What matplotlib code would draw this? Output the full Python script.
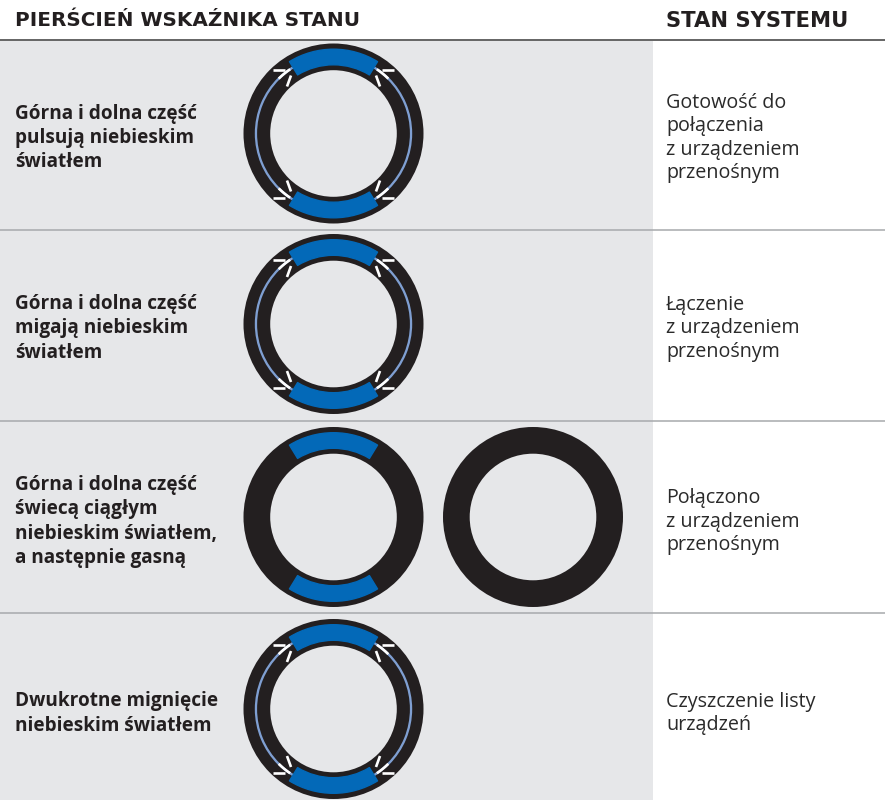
import matplotlib
matplotlib.use('Agg')
import matplotlib.pyplot as plt
from matplotlib.patches import Rectangle, Wedge, Circle
import numpy as np

plt.rcParams['font.family'] = ['Open Sans', 'DejaVu Sans']

headers = ['PIERŚCIEŃ WSKAŹNIKA STANU', 'STAN SYSTEMU']
patterns = ['Górna i dolna część\npulsują niebieskim\nświatłem',
            'Górna i dolna część\nmigają niebieskim\nświatłem',
            'Górna i dolna część\nświecą ciągłym\nniebieskim światłem,\na następnie gasną',
            'Dwukrotne mignięcie\nniebieskim światłem']
states = ['Gotowość do\npołączenia\nz urządzeniem\nprzenośnym',
          'Łączenie\nz urządzeniem\nprzenośnym',
          'Połączono\nz urządzeniem\nprzenośnym',
          'Czyszczenie listy\nurządzeń']
row_tops = [41, 230, 421, 613, 800]
ring_y = [133.5, 324, 517, 709]
has_rays = [True, True, False, True]

GREY = '#e6e7e9'
BLACK = '#231f20'
BLUE = '#0369b8'
LIGHT = '#7f9fd2'

fig = plt.figure(figsize=(8.85, 8), dpi=100)
ax = fig.add_axes([0, 0, 1, 1])
ax.set_xlim(0, 885)
ax.set_ylim(800, 0)
ax.axis('off')


def ring(cx, cy, blue=True, rays=False):
    ax.add_patch(Circle((cx, cy), 90, fc=BLACK, ec='none', zorder=2))
    ax.add_patch(Circle((cx, cy), 63.3, fc=GREY, ec='none', zorder=3))
    if rays:
        ax.add_patch(Wedge((cx, cy), 78.7, 0, 360, width=2.3, fc=LIGHT, ec='none', zorder=4))
    if blue:
        for mid in (90, 270):
            ax.add_patch(Wedge((cx, cy), 84.3, mid - 31.5, mid + 31.5, width=15.6,
                               fc=BLUE, ec=BLUE, lw=1.0, joinstyle='round', zorder=6))
    if rays:
        for sx in (-1, 1):
            for sy in (-1, 1):
                # short arc piece next to the blue segment
                th = np.radians(np.linspace(45, 56, 12))
                ax.plot(cx + sx * 77.5 * np.cos(th), cy + sy * 77.5 * np.sin(th),
                        color='white', lw=1.9, zorder=5, solid_capstyle='butt')
                ax.plot([cx + sx * 48.5, cx + sx * 60.5], [cy + sy * 64, cy + sy * 64],
                        color='white', lw=1.9, zorder=5, solid_capstyle='butt')
                ax.plot([cx + sx * 42.5, cx + sx * 46.5], [cy + sy * 58, cy + sy * 47],
                        color='white', lw=1.9, zorder=5, solid_capstyle='butt')


ax.add_patch(Rectangle((0, 41), 653, 759, fc=GREY, ec='none', zorder=0))
ax.plot([0, 885], [40, 40], color='#3a3a3a', lw=1.1, zorder=1)
for y in row_tops[1:4]:
    ax.plot([0, 885], [y, y], color='#a7a9ac', lw=1.1, zorder=1)

ax.text(15, 21, headers[0], fontsize=14.4, fontweight='bold', family='DejaVu Sans',
        color=BLACK, va='center')
ax.text(666, 21, headers[1], fontsize=15.2, fontweight='bold', family='DejaVu Sans',
        color=BLACK, va='center')

for i in range(4):
    ax.text(15, ring_y[i] + 4.5, patterns[i], fontsize=13.7, fontweight='bold', color=BLACK,
            va='center', linespacing=1.28)
    ax.text(666, ring_y[i] + 4.5, states[i], fontsize=14.2, color='#2a2a2a',
            va='center', linespacing=1.235)
    ring(333.5, ring_y[i], True, has_rays[i])

ring(533, ring_y[2], False, False)

fig.savefig('out.png', dpi=100)
